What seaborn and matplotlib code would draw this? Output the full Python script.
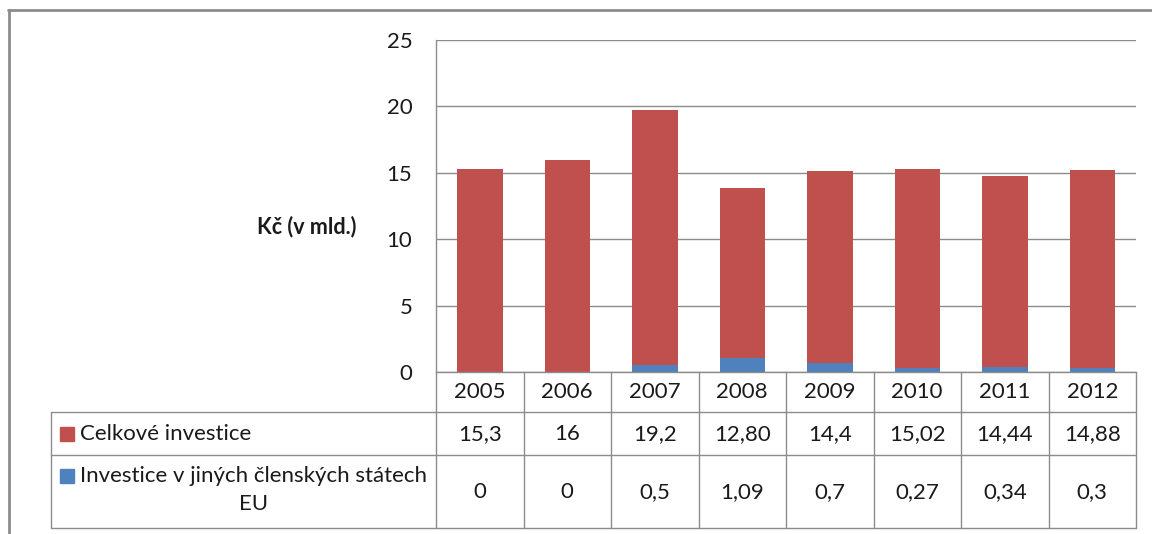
import pandas as pd
import seaborn as sns
import matplotlib.pyplot as plt
import matplotlib.transforms as mtransforms
from matplotlib.lines import Line2D
from matplotlib.patches import Rectangle

# data z grafu
roky = ['2005', '2006', '2007', '2008', '2009', '2010', '2011', '2012']
celkove = [15.3, 16, 19.2, 12.8, 14.4, 15.02, 14.44, 14.88]
jine_eu = [0, 0, 0.5, 1.09, 0.7, 0.27, 0.34, 0.3]
celkove_txt = ['15,3', '16', '19,2', '12,80', '14,4', '15,02', '14,44', '14,88']
jine_eu_txt = ['0', '0', '0,5', '1,09', '0,7', '0,27', '0,34', '0,3']
y_ticks = [0, 5, 10, 15, 20, 25]

df = pd.DataFrame({'rok': roky, 'celkove': celkove, 'jine_eu': jine_eu})
df['soucet'] = df['celkove'] + df['jine_eu']

sns.set_style('white')
plt.rcParams['font.family'] = ['Lato', 'DejaVu Sans']

W, H = 1152, 534
cervena = '#C0504D'
modra = '#4F81BD'
seda = '#8C8C8C'
txt = '#1a1a1a'
fs = 16

fig = plt.figure(figsize=(W / 100, H / 100), dpi=100)
ax = fig.add_axes([436 / W, 1 - 372 / H, 700 / W, 332 / H])

# skladane sloupce: cervena celkem, modra pres ni odspodu
sns.barplot(data=df, x='rok', y='soucet', color=cervena, saturation=1,
            width=0.52, errorbar=None, linewidth=0, ax=ax)
sns.barplot(data=df, x='rok', y='jine_eu', color=modra, saturation=1,
            width=0.52, errorbar=None, linewidth=0, ax=ax)

ax.set_ylim(0, 25)
ax.set_yticks(y_ticks)
ax.set_yticklabels([str(t) for t in y_ticks], fontsize=fs, color=txt)
ax.tick_params(axis='y', length=0, pad=17)
ax.tick_params(axis='x', length=0, labelbottom=False)
ax.set_xlabel('')
ax.yaxis.grid(True, color=seda, lw=1)
ax.set_axisbelow(True)
for s in ['top', 'right']:
    ax.spines[s].set_visible(False)
for s in ['left', 'bottom']:
    ax.spines[s].set_color(seda)
    ax.spines[s].set_linewidth(1)

ax.set_ylabel('Kč (v mld.)', rotation=0, fontsize=15.5, fontweight='bold',
              ha='center', va='center', color=txt)
ax.yaxis.set_label_coords((307 - 436) / 700, (372 - 227) / 332)

# tabulka s daty pod grafem
def fy(py):
    return 1 - py / H

tr_data = mtransforms.blended_transform_factory(ax.transData, fig.transFigure)
tr_axes = mtransforms.blended_transform_factory(ax.transAxes, fig.transFigure)

for i in range(len(roky) + 1):
    ax.add_line(Line2D([i - 0.5, i - 0.5], [fy(372), fy(528)], transform=tr_data,
                       color=seda, lw=1, clip_on=False))
x_lev = (51 - 436) / 700
for py in [412, 455, 528]:
    ax.add_line(Line2D([x_lev, 1], [fy(py), fy(py)], transform=tr_axes,
                       color=seda, lw=1, clip_on=False))
ax.add_line(Line2D([x_lev, x_lev], [fy(412), fy(528)], transform=tr_axes,
                   color=seda, lw=1, clip_on=False))

for i, rok in enumerate(roky):
    ax.text(i, fy(392), rok, transform=tr_data, ha='center', va='center',
            fontsize=fs, color=txt)
    ax.text(i, fy(434), celkove_txt[i], transform=tr_data, ha='center',
            va='center', fontsize=fs, color=txt)
    ax.text(i, fy(492), jine_eu_txt[i], transform=tr_data, ha='center',
            va='center', fontsize=fs, color=txt)

# legenda v tabulce
fig.add_artist(Rectangle((60 / W, fy(441)), 14 / W, 14 / H, color=cervena,
                         transform=fig.transFigure))
fig.add_artist(Rectangle((60 / W, fy(483)), 14 / W, 14 / H, color=modra,
                         transform=fig.transFigure))
fig.text(80 / W, fy(434), 'Celkové investice', ha='left', va='center',
         fontsize=fs, color=txt)
fig.text(80 / W, fy(490), 'Investice v jiných členských státech\nEU', ha='left',
         va='center', multialignment='center', linespacing=1.45,
         fontsize=fs, color=txt)

# ramecek
fig.add_artist(Line2D([8 / W, 1], [fy(10), fy(10)], transform=fig.transFigure,
                      color=seda, lw=2))
fig.add_artist(Line2D([8.5 / W, 8.5 / W], [0, fy(10)], transform=fig.transFigure,
                      color=seda, lw=2))

fig.savefig('out.png', dpi=100)
